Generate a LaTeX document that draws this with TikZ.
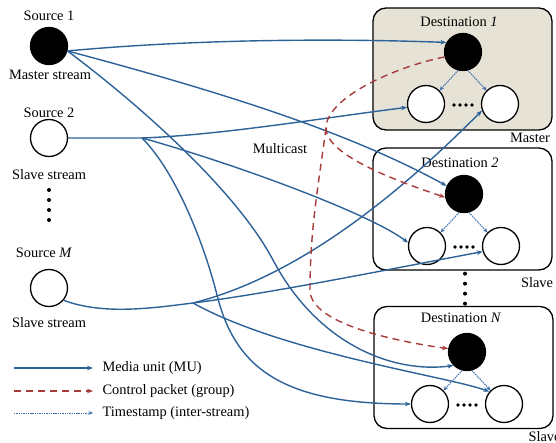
\documentclass[tikz,border=0pt]{standalone}
\usepackage{fontspec}
\setmainfont{Liberation Serif}
\usetikzlibrary{arrows.meta}
\definecolor{mublue}{RGB}{44,98,152}
\definecolor{ctlred}{RGB}{168,58,58}
\definecolor{tsblue}{RGB}{62,110,172}
\definecolor{mastbg}{RGB}{230,227,214}
\begin{document}
\begin{tikzpicture}[x=1pt, y=-1pt, font=\fontsize{14.4}{17}\selectfont,
   stream/.style={circle, draw, line width=1.3pt, minimum size=37pt, inner sep=0pt},
   master/.style={stream, fill=black},
   slave/.style={stream, fill=white},
   dest/.style={draw, line width=1.3pt, rounded corners=13pt, minimum width=179pt, minimum height=122pt, inner sep=0pt},
   mu/.style={draw=mublue, line width=1.4pt, -{Stealth[length=6pt,width=4.5pt]}},
   ctl/.style={draw=ctlred, line width=1.4pt, dash pattern=on 7pt off 5pt, -{Stealth[length=6pt,width=4.5pt]}},
   ts/.style={draw=tsblue, line width=1pt, dash pattern=on 1.4pt off 0.9pt, -{Stealth[length=4.5pt,width=4pt]}}]
   \useasboundingbox (0,0) rectangle (556,443);
   \node[dest, fill=mastbg] (box1) at (462.5,69) {};
   \node[dest] (box2) at (462.5,209) {};
   \node[dest] (boxn) at (463.5,367.5) {};
   \node (t1) at (459,22) {Destination \textit{1}};
   \node (t2) at (460,163) {Destination \textit{2}};
   \node (tn) at (461,318) {Destination \textit{N}};
   \node (r1) at (530,138) {Master};
   \node (r2) at (537,283) {Slave};
   \node[anchor=west] (rn) at (525,437) {Slave};
   \node[master] (d1) at (463,52) {};
   \node[slave] (d1a) at (426,104) {};
   \node[slave] (d1b) at (500,104) {};
   \node[master] (d2) at (464,194) {};
   \node[slave] (d2a) at (427,246) {};
   \node[slave] (d2b) at (501,246) {};
   \node[master] (dn) at (467,352) {};
   \node[slave] (dna) at (430,404) {};
   \node[slave] (dnb) at (504,404) {};
   \foreach \s in {d1a,d2a,dna}
      \foreach \i in {0,...,3} \fill (\s) ++(28+6*\i,1) circle (1.8pt);
   \foreach \i in {0,...,3} \fill (box2.south) ++(2.5,3+10*\i) circle (2pt);

   \node[master] (s1) at (49,46) {};
   \node[slave] (s2) at (49,138) {};
   \node[slave] (sm) at (49,288) {};
   \node (s1t) at (49,16) {Source 1};
   \node (s1b) at (50,75) {Master stream};
   \node (s2t) at (49,113) {Source 2};
   \node (s2b) at (49,175) {Slave stream};
   \node (smt) at (44,253) {Source \textit{M}};
   \node (smb) at (49,323) {Slave stream};
   \foreach \i in {0,...,3} \fill (s2) ++(0,52+10*\i) circle (2pt);
   \node (mc) at (280,149) {Multicast};

   \coordinate (j2) at (142,138);
   \coordinate (jm) at (193,303);
   \coordinate (jr) at (326,128);
   \draw[mu] (s1.-15) .. controls +(130,-12) and +(-110,-4) .. (d1.150);
   \draw[mu] (s1.-15) .. controls +(150,40) and +(-100,-55) .. (d2.155);
   \draw[mu] (s1.-15) .. controls +(80,60) and +(-35,-66) .. (273,260) .. controls +(45,85) and +(-60,8) .. (dn.225);
   \draw[mu] (s2.east) -- (j2) .. controls +(80,-3) and +(-80,10) .. (d1a.190);
   \draw[mu] (j2) .. controls +(90,25) and +(-40,-30) .. (d2a.170);
   \draw[mu] (j2) .. controls +(35,35) and +(-12,-48) .. (217,295) .. controls +(18,72) and +(-130,0) .. (dna.180);
   \draw[mu] (sm.-40) .. controls +(40,15) and +(-40,5) .. (jm) .. controls +(120,-30) and +(-60,60) .. (d1b.200);
   \draw[mu] (jm) .. controls +(80,-10) and +(-80,15) .. (d2b.197);
   \draw[mu] (jm) .. controls +(90,50) and +(-40,-15) .. (dnb.140);
   \draw[ctl] (d1.195) .. controls +(-50,10) and +(0,-30) .. (jr) .. controls +(0,25) and +(-60,-20) .. (d2.190);
   \draw[ctl] (jr) .. controls +(-8,60) and +(0,-60) .. (310,290) .. controls +(0,30) and +(-70,-10) .. (dn.170);
   \foreach \m/\a/\b in {d1/d1a/d1b, d2/d2a/d2b, dn/dna/dnb} {
      \draw[ts] (\m.-105) -- (\a.45);
      \draw[ts] (\m.-75) -- (\b.135);
   }

   \node[anchor=west] (lg1) at (99,368) {Media unit (MU)};
   \node[anchor=west] (lg2) at (99,391) {Control packet (group)};
   \node[anchor=west] (lg3) at (99,413) {Timestamp (inter-stream)};
   \draw[mu] ([xshift=-85pt]lg1.west) -- ([xshift=-6pt]lg1.west);
   \draw[ctl] ([xshift=-85pt]lg2.west) -- ([xshift=-6pt]lg2.west);
   \draw[ts] ([xshift=-85pt]lg3.west) -- ([xshift=-6pt]lg3.west);
\end{tikzpicture}
\end{document}
